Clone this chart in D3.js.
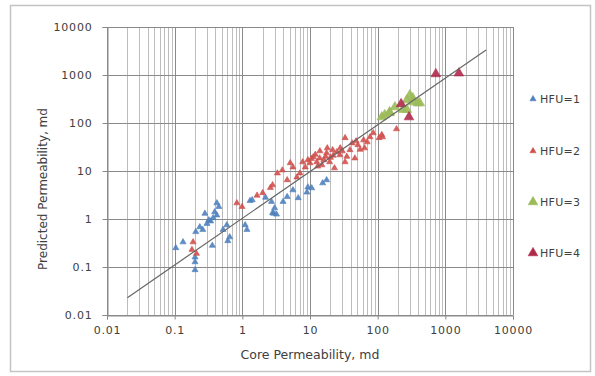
<!DOCTYPE html>
<html><head><meta charset="utf-8">
<script src="https://cdn.jsdelivr.net/npm/d3@7"></script>
<style>body{margin:0;background:#fff}svg{display:block}text{font-family:"DejaVu Sans",Verdana,sans-serif;fill:#404040}</style>
</head><body>
<svg id="c" width="595" height="376"></svg>
<script>
// ---- data ----
const seriesNames = ["HFU=1","HFU=2","HFU=3","HFU=4"];
const hfu1 = [[0.104,0.25],[0.133,0.33],[0.2,0.127],[0.2,0.087],[0.2,0.16],[0.205,0.54],[0.235,0.68],[0.26,0.6],[0.32,0.95],[0.37,1.05],[0.42,2.15],[0.45,1.8],[0.52,0.6],[0.59,0.75],[0.61,0.35],[0.65,0.42],[0.36,0.28],[1.1,0.75],[1.17,0.6],[1.3,2.4],[0.28,1.3],[0.39,1.4],[0.3,0.8],[1.4,2.5],[2.2,2.8],[2.7,2.3],[3.0,1.7],[2.8,1.35],[3.2,1.25],[4.0,2.3],[4.6,2.9],[5.6,4.0],[6.7,2.75],[9.0,3.6],[9.3,4.6],[10.6,4.4],[15.4,5.6],[17.6,6.5],[0.34,0.9],[0.42,1.2],[2.9,1.3]];
const hfu2 = [[0.18,0.23],[0.187,0.33],[0.21,0.19],[0.83,2.15],[0.99,1.8],[3.3,9.0],[3.9,10.4],[5.1,14.7],[5.6,12],[7.1,9.0],[7.8,15.4],[9.3,17],[10,14.7],[11.2,19.6],[12.6,15.4],[13.9,18.5],[15,13.3],[17.6,23.7],[19.5,15.4],[21.6,27.5],[23,11.5],[27.6,21.5],[33,49],[33,15.4],[2.8,5.1],[2.6,4.5],[2.0,3.5],[1.65,3.1],[4.6,6.5],[6.4,7.4],[42,38],[39,27.5],[51,35],[62,44],[77,51],[86,62],[105,49],[115,57],[35,20],[46,18.5],[64,30],[190,75],[118,51],[8.5,12],[12,22],[14,26],[16,17],[20,19],[25,25],[28,30],[18,30],[10.5,18],[13,12.5],[17,20],[22,21],[30,26],[48,42],[55,28],[70,40]];
const hfu3 = [[115,133],[127,147],[150,170],[150,162],[180,215],[235,190],[270,300],[270,190],[330,330],[330,273],[390,260],[420,260],[299,383]];
const hfu4 = [[222,250],[290,133],[724,1050],[1585,1090]];
const fitLine = [[0.02,0.023],[4000,3300]];
const xTickValues = [0.01,0.1,1,10,100,1000,10000];
const xTickLabels = ["0.01","0.1","1","10","100","1000","10000"];
const yTickValues = [0.01,0.1,1,10,100,1000,10000];
const yTickLabels = ["0.01","0.1","1","10","100","1000","10000"];

// ---- chart ----
const svg = d3.select("#c");
svg.append("rect").attr("x",10.5).attr("y",5.5).attr("width",580).attr("height",366)
  .attr("fill","#fff").attr("stroke","#c4c4c4").attr("stroke-width",1.5);

const x = d3.scaleLog().domain([0.01,10000]).range([107,513]);
const y = d3.scaleLog().domain([0.01,10000]).range([315,27]);

const g = svg.append("g");
g.selectAll("line.vminor").data(x.ticks()).enter().append("line")
  .attr("x1",d=>Math.round(x(d))+0.5).attr("x2",d=>Math.round(x(d))+0.5)
  .attr("y1",y(10000)).attr("y2",y(0.01))
  .attr("stroke",d=>xTickValues.some(v=>Math.abs(v-d)/v<1e-6)?"#8a8a8a":"#bdbdbd").attr("stroke-width",1);
g.selectAll("line.hmaj").data(yTickValues).enter().append("line")
  .attr("x1",x(0.01)).attr("x2",x(10000))
  .attr("y1",d=>Math.round(y(d))+0.5).attr("y2",d=>Math.round(y(d))+0.5)
  .attr("stroke","#8a8a8a").attr("stroke-width",1);

const xAxis = d3.axisBottom(x).tickValues(xTickValues).tickFormat((d,i)=>xTickLabels[i]).tickSize(4).tickPadding(7);
const yAxis = d3.axisLeft(y).tickValues(yTickValues).tickFormat((d,i)=>yTickLabels[i]).tickSize(5).tickPadding(10);
const gx = svg.append("g").attr("transform",`translate(0,${y(0.01)+0.5})`).call(xAxis);
const gy = svg.append("g").attr("transform",`translate(${x(0.01)+0.5},0)`).call(yAxis);
[gx,gy].forEach(a=>{
  a.select(".domain").attr("stroke","#8a8a8a");
  a.selectAll(".tick line").attr("stroke","#8a8a8a");
  a.selectAll(".tick text").attr("font-size",11).attr("letter-spacing",0.8).attr("fill","#404040").attr("font-family","DejaVu Sans");
});
gy.selectAll(".tick text").attr("dy","0.35em");

svg.append("text").attr("x",310).attr("y",359).attr("text-anchor","middle").attr("font-size",12.5).text("Core Permeability, md");
svg.append("text").attr("transform",`translate(47,${y(1)-30}) rotate(-90)`).attr("text-anchor","middle").attr("font-size",12).text("Predicted Permeability, md");

const styles = [
  {data:hfu1,color:"#4f81bd",size:16},
  {data:hfu2,color:"#d0504d",size:16},
  {data:hfu3,color:"#9bbb59",size:40},
  {data:hfu4,color:"#b02a4c",size:40}
];
const sym = d3.symbol().type(d3.symbolTriangle);
styles.forEach(s=>{
  svg.append("g").selectAll("path").data(s.data).enter().append("path")
    .attr("d",sym.size(s.size)())
    .attr("transform",d=>`translate(${x(d[0])},${y(d[1])})`)
    .attr("fill",s.color).attr("stroke",s.color).attr("stroke-width",0.6).attr("fill-opacity",0.9);
});

svg.append("path").datum(fitLine)
  .attr("d",d3.line().x(d=>x(d[0])).y(d=>y(d[1])))
  .attr("fill","none").attr("stroke","#666").attr("stroke-width",1.2);

const legY = [99,151,202,253];
seriesNames.forEach((n,i)=>{
  const s = styles[i];
  svg.append("path").attr("d",d3.symbol().type(d3.symbolTriangle).size(s.size)())
    .attr("transform",`translate(533,${legY[i]})`).attr("fill",s.color).attr("stroke",s.color).attr("stroke-width",0.6);
  svg.append("text").attr("x",540).attr("y",legY[i]).attr("dy","0.35em").attr("font-size",11).attr("letter-spacing",0.3).text(n);
});
</script>
</body></html>
